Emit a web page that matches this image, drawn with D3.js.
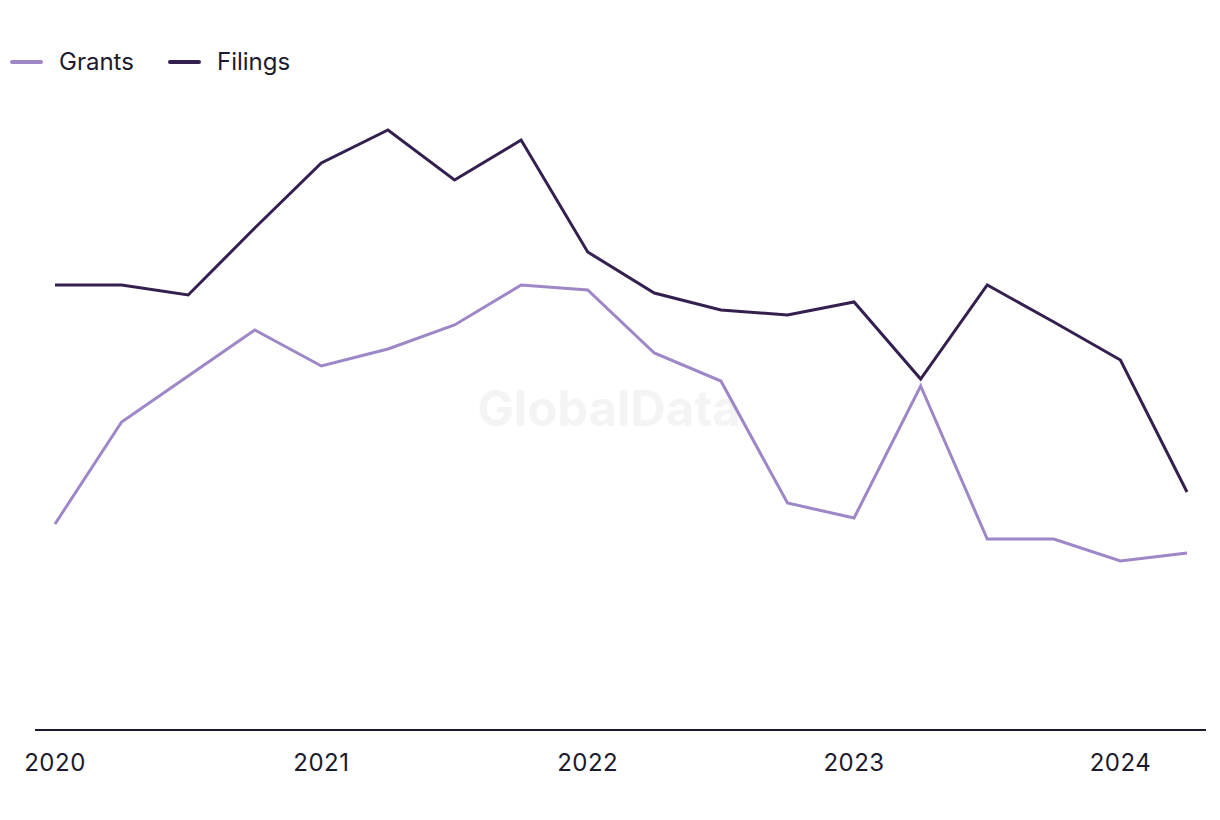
<!DOCTYPE html>
<html>
<head>
<meta charset="utf-8">
<script src="https://cdn.jsdelivr.net/npm/d3@7"></script>
<style>
  html, body { margin: 0; padding: 0; background: #ffffff; }
  svg { display: block; font-family: Inter, "Noto Sans", sans-serif; }
</style>
</head>
<body>
<svg id="chart" width="1220" height="820"></svg>
<script>
const quarters = ["2020Q1","2020Q2","2020Q3","2020Q4","2021Q1","2021Q2","2021Q3","2021Q4",
                  "2022Q1","2022Q2","2022Q3","2022Q4","2023Q1","2023Q2","2023Q3","2023Q4",
                  "2024Q1","2024Q2"];
const filings = [89, 89, 87, 100.4, 113.4, 120, 110, 118, 95.6, 87.4, 84, 83, 85.6, 70.2, 89, 81.6, 74, 47.6];
const grants  = [41.2, 61.6, 70.8, 80, 72.8, 76.2, 81, 89, 88, 75.4, 69.8, 45.4, 42.4, 68.8, 38.2, 38.2, 33.8, 35.4];
const yearTicks = ["2020","2021","2022","2023","2024"];
const seriesNames = ["Grants","Filings"];
const seriesColors = ["#9e87c7","#34204f"];

const svg = d3.select("#chart");
const x = d3.scalePoint().domain(quarters).range([55, 1187]);
const y = d3.scaleLinear().domain([0, 140]).range([730, 30]);

// watermark
svg.append("text")
  .attr("x", 609).attr("y", 426)
  .attr("text-anchor", "middle")
  .attr("font-size", 49).attr("font-weight", 700)
  .attr("fill", "#f4f4f4")
  .text("GlobalData");

// x axis baseline
svg.append("line")
  .attr("x1", 35).attr("x2", 1206)
  .attr("y1", y(0)).attr("y2", y(0))
  .attr("stroke", "#1b1a2e").attr("stroke-width", 2);

// year labels
svg.selectAll("text.year").data(yearTicks).enter().append("text")
  .attr("class", "year")
  .attr("x", d => x(d + "Q1"))
  .attr("y", 771)
  .attr("text-anchor", "middle")
  .attr("font-size", 24)
  .attr("letter-spacing", 0.5)
  .attr("fill", "#1b1a2e")
  .text(d => d);

const line = d3.line().x((d, i) => x(quarters[i])).y(d => y(d));

[grants, filings].forEach((vals, k) => {
  svg.append("path")
    .datum(vals)
    .attr("d", line)
    .attr("fill", "none")
    .attr("stroke", seriesColors[k])
    .attr("stroke-width", 3)
    .attr("stroke-linejoin", "miter");
});

// legend
const legX = [10, 168];
seriesNames.forEach((name, k) => {
  const g = svg.append("g").attr("transform", `translate(${legX[k]},62)`);
  g.append("line").attr("x1", 2).attr("x2", 31).attr("y1", 0).attr("y2", 0)
    .attr("stroke", seriesColors[k]).attr("stroke-width", 4).attr("stroke-linecap", "round");
  g.append("text").attr("x", 49).attr("y", 8)
    .attr("font-size", 24).attr("fill", "#1b1a2e").text(name);
});
</script>
</body>
</html>
